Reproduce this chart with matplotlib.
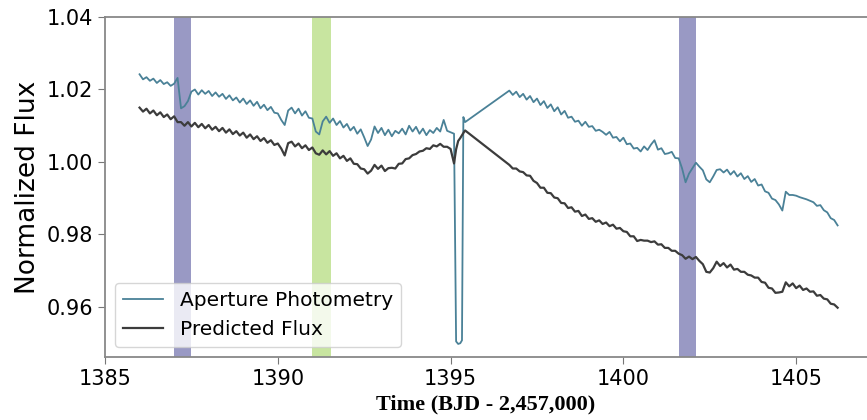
import matplotlib
matplotlib.use('Agg')
import matplotlib.pyplot as plt
import numpy as np

# light curve before the gap, 0.1 d cadence starting at 1386.0
aperture_a = [1.0242, 1.0228, 1.0234, 1.0224, 1.0230, 1.0218, 1.0226, 1.0215, 1.0220, 1.0210,
              1.0216, 1.0232, 1.0148, 1.0154, 1.0168, 1.0194, 1.0200, 1.0186, 1.0198, 1.0188,
              1.0196, 1.0182, 1.0192, 1.0180, 1.0188, 1.0174, 1.0184, 1.0170, 1.0178, 1.0164,
              1.0175, 1.0160, 1.0170, 1.0155, 1.0166, 1.0148, 1.0158, 1.0143, 1.0152, 1.0136,
              1.0134, 1.0116, 1.0102, 1.0142, 1.0150, 1.0134, 1.0147, 1.0128, 1.0140, 1.0122,
              1.0120, 1.0084, 1.0076, 1.0112, 1.0125, 1.0108, 1.0120, 1.0102, 1.0113, 1.0095,
              1.0105, 1.0087, 1.0097, 1.0078, 1.0090, 1.0068, 1.0044, 1.0062, 1.0098, 1.0080,
              1.0094, 1.0074, 1.0089, 1.0071, 1.0086, 1.0079, 1.0092, 1.0076, 1.0100, 1.0084,
              1.0097, 1.0078, 1.0092, 1.0074, 1.0088, 1.0080, 1.0094, 1.0084, 1.0116, 1.0086,
              1.0082]
predicted_a = [1.0150, 1.0139, 1.0147, 1.0134, 1.0142, 1.0129, 1.0137, 1.0124, 1.0131, 1.0118,
               1.0126, 1.0110, 1.0110, 1.0100, 1.0110, 1.0098, 1.0108, 1.0096, 1.0105, 1.0093,
               1.0102, 1.0089, 1.0097, 1.0085, 1.0094, 1.0081, 1.0090, 1.0077, 1.0085, 1.0073,
               1.0081, 1.0067, 1.0076, 1.0063, 1.0071, 1.0058, 1.0066, 1.0053, 1.0060, 1.0047,
               1.0051, 1.0037, 1.0018, 1.0052, 1.0056, 1.0043, 1.0051, 1.0038, 1.0046, 1.0033,
               1.0040, 1.0024, 1.0020, 1.0032, 1.0021, 1.0030, 1.0017, 1.0024, 1.0010, 1.0017,
               1.0003, 1.0010, 0.9995, 0.9994, 0.9982, 0.9980, 0.9968, 0.9976, 0.9992, 0.9981,
               0.9990, 0.9975, 0.9983, 0.9984, 0.9982, 0.9995, 0.9996, 1.0008, 1.0010, 1.0019,
               1.0022, 1.0029, 1.0031, 1.0038, 1.0036, 1.0046, 1.0043, 1.0050, 1.0042, 1.0042,
               1.0036]

# the deep feature near 1395.2
dip_time = [1395.10, 1395.16, 1395.22, 1395.28, 1395.33, 1395.37, 1395.42]
aperture_dip = [1.0078, 0.9505, 0.9498, 0.9500, 0.9508, 1.0124, 1.0110]
predicted_dip = [0.9996, 1.0035, 1.0058, 1.0066, 1.0074, 1.0080, 1.0087]

# after the gap, 0.1 d cadence starting at 1396.7
aperture_b = [1.0197, 1.0185, 1.0194,
              1.0179, 1.0188, 1.0172, 1.0182, 1.0165, 1.0175, 1.0157, 1.0168, 1.0149, 1.0159,
              1.0140, 1.0151, 1.0131, 1.0141, 1.0122, 1.0125, 1.0111, 1.0114, 1.0100, 1.0111,
              1.0097, 1.0099, 1.0086, 1.0089, 1.0083, 1.0075, 1.0083, 1.0067, 1.0069, 1.0057,
              1.0067, 1.0049, 1.0051, 1.0037, 1.0039, 1.0029, 1.0043, 1.0033, 1.0048, 1.0060,
              1.0034, 1.0038, 1.0022, 1.0024, 1.0028, 1.0011, 1.0010, 0.9982, 0.9944, 0.9968,
              0.9983, 0.9998, 0.9987, 0.9977, 0.9952, 0.9944, 0.9960, 0.9978, 0.9980, 0.9971,
              0.9979, 0.9965, 0.9975, 0.9960, 0.9969, 0.9953, 0.9961, 0.9945, 0.9953, 0.9935,
              0.9938, 0.9919, 0.9915, 0.9899, 0.9895, 0.9883, 0.9866, 0.9918, 0.9909, 0.9909,
              0.9907, 0.9903, 0.9900, 0.9897, 0.9893, 0.9889, 0.9879, 0.9881, 0.9867, 0.9861,
              0.9845, 0.9840, 0.9825]
predicted_b = [0.9992, 0.9982, 0.9982,
               0.9974, 0.9972, 0.9963, 0.9962, 0.9948, 0.9942, 0.9929, 0.9929, 0.9915, 0.9914,
               0.9902, 0.9900, 0.9887, 0.9886, 0.9873, 0.9875, 0.9863, 0.9865, 0.9851, 0.9855,
               0.9843, 0.9845, 0.9835, 0.9839, 0.9829, 0.9833, 0.9823, 0.9827, 0.9816, 0.9818,
               0.9809, 0.9807, 0.9795, 0.9795, 0.9782, 0.9785, 0.9783, 0.9783, 0.9779, 0.9781,
               0.9772, 0.9773, 0.9763, 0.9763, 0.9755, 0.9755, 0.9747, 0.9743, 0.9733, 0.9739,
               0.9732, 0.9738, 0.9727, 0.9718, 0.9697, 0.9695, 0.9707, 0.9725, 0.9713, 0.9721,
               0.9709, 0.9717, 0.9703, 0.9705, 0.9697, 0.9697, 0.9689, 0.9687, 0.9681, 0.9681,
               0.9669, 0.9667, 0.9653, 0.9651, 0.9639, 0.9640, 0.9642, 0.9668, 0.9657, 0.9665,
               0.9652, 0.9659, 0.9647, 0.9651, 0.9642, 0.9643, 0.9631, 0.9633, 0.9623, 0.9621,
               0.9609, 0.9607, 0.9598]

# highlighted windows (start, end, colour)
bands = [(1387.0, 1387.5, '#9999c4'), (1391.0, 1391.53, '#c8e5a0'), (1401.6, 1402.1, '#9999c4')]

time = np.concatenate([1386.0 + 0.1 * np.arange(len(aperture_a)), dip_time,
                       1396.7 + 0.1 * np.arange(len(aperture_b))])
aperture = np.concatenate([aperture_a, aperture_dip, aperture_b])
predicted = np.concatenate([predicted_a, predicted_dip, predicted_b])

fig = plt.figure(figsize=(8.67, 4.2), dpi=100)
ax = fig.add_axes([105 / 867, 63 / 420, 1 - 105 / 867, 340 / 420])

for start, end, c in bands:
    ax.axvspan(start, end, color=c, lw=0)

ax.plot(time, aperture, color='#4a8197', lw=1.3, label='Aperture Photometry')
ax.plot(time, predicted, color='#3c3c3c', lw=1.6, label='Predicted Flux')

ax.set_xlim(1385, 1407.05)
ax.set_ylim(0.9462, 1.04)
ax.set_xticks([1385, 1390, 1395, 1400, 1405])
ax.set_yticks([0.96, 0.98, 1.00, 1.02, 1.04])
ax.yaxis.set_major_formatter(matplotlib.ticker.FormatStrFormatter('%.2f'))
ax.tick_params(labelsize=15, color='#777777', length=5)

for s in ['left', 'top', 'bottom']:
    ax.spines[s].set_color('#888888')
    ax.spines[s].set_linewidth(1.3)
ax.spines['right'].set_visible(False)

ax.set_ylabel('Normalized Flux', fontsize=19)
ax.set_xlabel('Time (BJD - 2,457,000)', fontsize=16, fontweight='bold', family='Liberation Serif')
ax.legend(loc='lower left', fontsize=14.5)

fig.savefig('out.png', dpi=100)
